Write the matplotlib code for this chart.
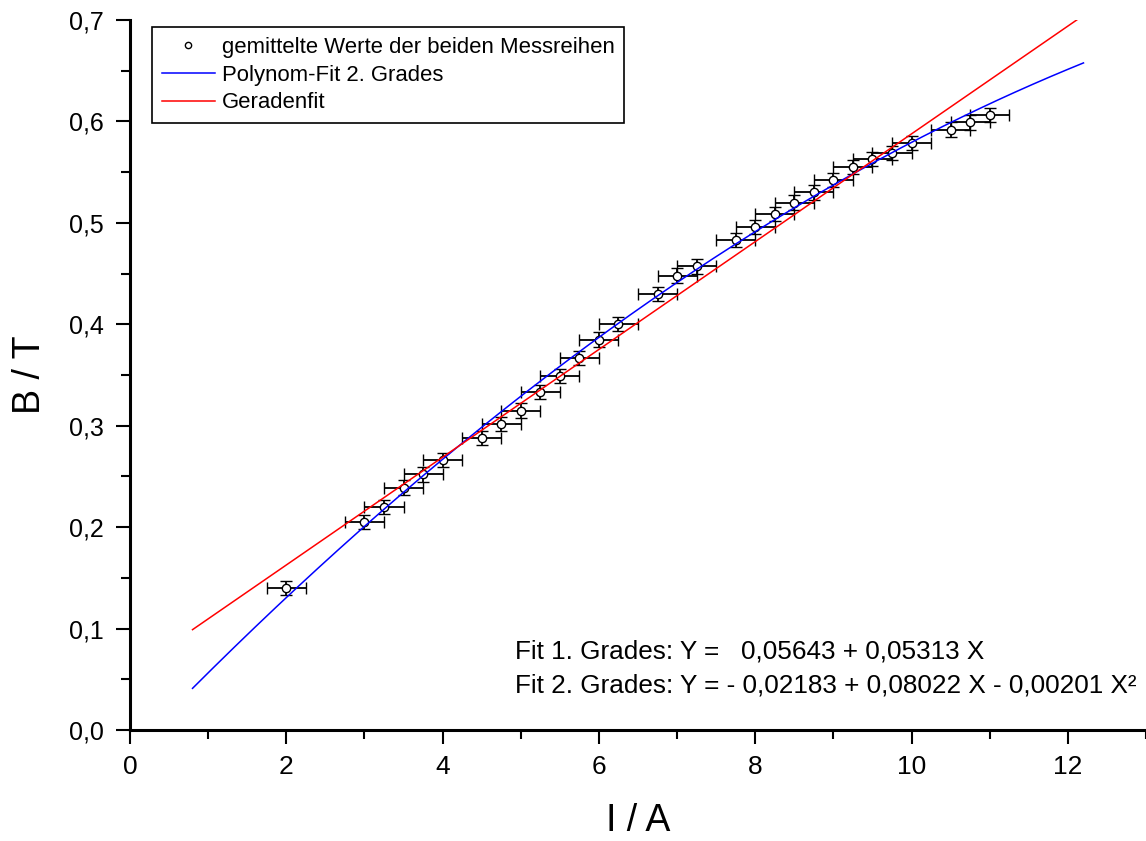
import numpy as np
import matplotlib
matplotlib.use("Agg")
import matplotlib.pyplot as plt
from matplotlib.ticker import MultipleLocator, FuncFormatter
from matplotlib.lines import Line2D

# Messwerte (gemittelt)
strom = [2.0, 3.0, 3.25, 3.5, 3.75, 4.0, 4.5, 4.75, 5.0, 5.25, 5.5, 5.75, 6.0, 6.25,
         6.75, 7.0, 7.25, 7.75, 8.0, 8.25, 8.5, 8.75, 9.0, 9.25, 9.5, 9.75, 10.0,
         10.5, 10.75, 11.0]
feld = [0.140, 0.205, 0.220, 0.239, 0.252, 0.266, 0.288, 0.302, 0.315, 0.333, 0.349,
        0.367, 0.385, 0.400, 0.430, 0.448, 0.457, 0.483, 0.496, 0.509, 0.520, 0.530,
        0.542, 0.555, 0.563, 0.569, 0.579, 0.592, 0.599, 0.606]
strom_err = 0.25
feld_err = 0.007

# Fit-Koeffizienten (hoechste Potenz zuerst)
fit1 = [0.05313, 0.05643]
fit2 = [-0.00201, 0.08022, -0.02183]
fit_bereich = [0.8, 12.2]

plt.rcParams['font.family'] = ['Liberation Sans', 'DejaVu Sans']

fig = plt.figure(figsize=(11.46, 8.41), dpi=100)
ax = fig.add_axes([130/1146, 1-730/841, 1-130/1146, 710/841])

xs = np.linspace(fit_bereich[0], fit_bereich[1], 300)
ax.errorbar(strom, feld, xerr=strom_err, yerr=feld_err, fmt='o', color='black',
            mfc='white', mec='black', ms=6, mew=1.0, elinewidth=1.3, capsize=4.5,
            capthick=1.3, zorder=2)
l_poly, = ax.plot(xs, np.polyval(fit2, xs), color='blue', lw=1.1, zorder=3)
l_gerade, = ax.plot(xs, np.polyval(fit1, xs), color='red', lw=1.1, zorder=3)

ax.set_xlim(0, 13)
ax.set_ylim(0, 0.7)
ax.xaxis.set_major_locator(MultipleLocator(2))
ax.xaxis.set_minor_locator(MultipleLocator(1))
ax.yaxis.set_major_locator(MultipleLocator(0.1))
ax.yaxis.set_minor_locator(MultipleLocator(0.05))
ax.yaxis.set_major_formatter(FuncFormatter(lambda v, p: ('%.1f' % v).replace('.', ',')))

for s in ['top', 'right']:
    ax.spines[s].set_visible(False)
for s in ['left', 'bottom']:
    ax.spines[s].set_linewidth(2.2)
ax.tick_params(which='major', direction='out', length=10, width=1.5)
ax.tick_params(which='minor', direction='out', length=6.5, width=1.5)
ax.tick_params(axis='x', labelsize=19, pad=8)
ax.tick_params(axis='y', labelsize=18, pad=9)

ax.set_xlabel('I / A', fontsize=27, labelpad=17)
ax.set_ylabel('B / T', fontsize=27, labelpad=15)

punkt = Line2D([], [], ls='none', marker='o', ms=4.5, mfc='white', mec='black', mew=1.0)
leg = ax.legend([punkt, l_poly, l_gerade],
                ['gemittelte Werte der beiden Messreihen', 'Polynom-Fit 2. Grades', 'Geradenfit'],
                loc='upper left', bbox_to_anchor=(0.0217, 0.99), borderaxespad=0,
                fontsize=15.9, frameon=True, fancybox=False, edgecolor='black',
                framealpha=1, handlelength=2.4, borderpad=0.45, labelspacing=0.3,
                handletextpad=0.3)
leg.get_frame().set_linewidth(1.2)

ax.text(0.379, 0.1, 'Fit 1. Grades: Y =   0,05643 + 0,05313 X', transform=ax.transAxes,
        fontsize=18.8, va='baseline')
ax.text(0.379, 0.0535, 'Fit 2. Grades: Y = - 0,02183 + 0,08022 X - 0,00201 X²',
        transform=ax.transAxes, fontsize=18.8, va='baseline')

plt.savefig('out.png', dpi=100)
